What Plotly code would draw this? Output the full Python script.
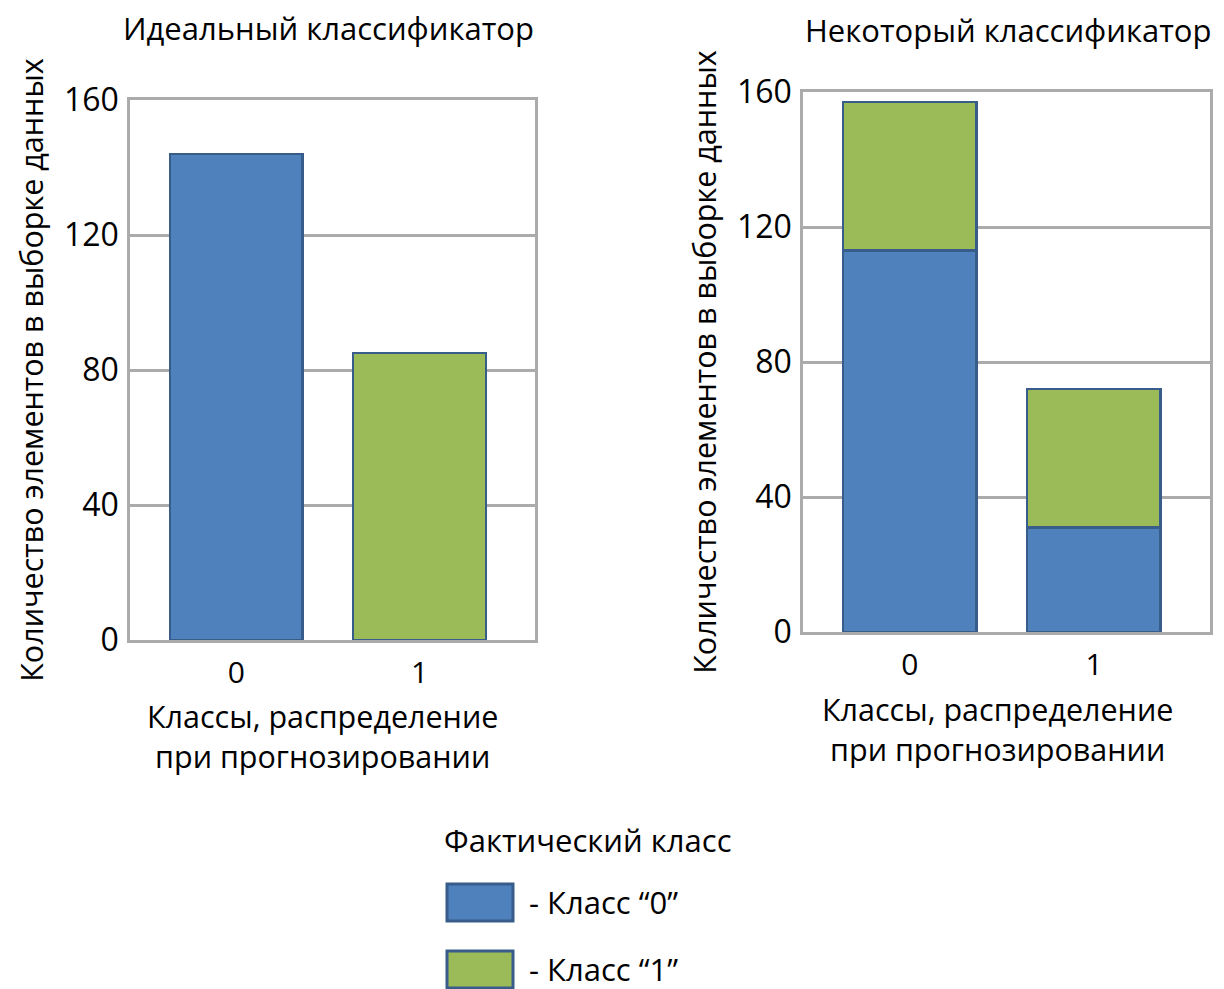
import plotly.graph_objects as go

# Predicted class labels (x categories)
classes = ["0", "1"]

# Ideal classifier: every item lands in its actual class
ideal_actual0 = [144, 0]
ideal_actual1 = [0, 85]

# Some classifier: predicted classes mix actual classes
some_actual0 = [113, 31]
some_actual1 = [44, 41]

y_ticks = [0, 40, 80, 120, 160]

titles = ["Идеальный классификатор", "Некоторый классификатор"]
y_title = "Количество элементов в выборке данных"
x_title = "Классы, распределение<br>при прогнозировании"
legend_title = "Фактический класс"
legend_labels = ["- Класс \u201c0\u201d", "- Класс \u201c1\u201d"]

BLUE = "#4f81bd"
GREEN = "#9bbb59"
EDGE = "#385d8a"
GRID = "#ababab"
FONT = "Open Sans"

W, H = 1224, 989


def px(x):
    return x / W


def py(y):
    return 1 - y / H


fig = go.Figure()

bar_line = dict(color=EDGE, width=2.5)
BAR_W = 0.725
# Left panel
fig.add_trace(go.Bar(x=classes, y=ideal_actual0, width=BAR_W, marker=dict(color=BLUE, line=bar_line),
                     xaxis="x", yaxis="y", showlegend=False, name="Класс 0"))
fig.add_trace(go.Bar(x=classes, y=ideal_actual1, width=BAR_W, marker=dict(color=GREEN, line=bar_line),
                     xaxis="x", yaxis="y", showlegend=False, name="Класс 1"))
# Right panel
fig.add_trace(go.Bar(x=classes, y=some_actual0, width=BAR_W, marker=dict(color=BLUE, line=bar_line),
                     xaxis="x2", yaxis="y2", showlegend=False, name="Класс 0"))
fig.add_trace(go.Bar(x=classes, y=some_actual1, width=BAR_W, marker=dict(color=GREEN, line=bar_line),
                     xaxis="x2", yaxis="y2", showlegend=False, name="Класс 1"))

axis_font = dict(family=FONT, size=32, color="#000000")
xtick_font = dict(family=FONT, size=30, color="#000000")
text_font = dict(family=FONT, size=31, color="#000000")

xcommon = dict(showline=True, mirror=True, linecolor=GRID, linewidth=2.5, showgrid=False,
               range=[-0.58, 1.63], tickfont=xtick_font, ticks="", ticklabelstandoff=4,
               fixedrange=True, automargin=False)
ycommon = dict(showline=True, mirror=True, linecolor=GRID, linewidth=2.5, showgrid=True,
               gridcolor=GRID, gridwidth=2.5, zeroline=False, range=[0, 160], tickvals=y_ticks,
               tickfont=axis_font, ticks="", ticklabelstandoff=2, fixedrange=True, automargin=False,
               title=dict(text=y_title, font=dict(family=FONT, size=30.5, color="#000000"), standoff=12))

fig.update_layout(
    width=W, height=H,
    margin=dict(l=0, r=0, t=0, b=0),
    paper_bgcolor="white", plot_bgcolor="white",
    barmode="stack",
    font=dict(family=FONT, color="#000000"),
    xaxis=dict(domain=[px(130), px(535)], anchor="y", **xcommon),
    yaxis=dict(domain=[py(640), py(100)], anchor="x", **ycommon),
    xaxis2=dict(domain=[px(803), px(1210)], anchor="y2", **xcommon),
    yaxis2=dict(domain=[py(632), py(92)], anchor="x2", **ycommon),
)

# Panel titles
fig.add_annotation(x=px(328), y=py(28), xref="paper", yref="paper", text=titles[0], showarrow=False,
                   font=text_font, xanchor="center", yanchor="middle")
fig.add_annotation(x=px(1008), y=py(30), xref="paper", yref="paper", text=titles[1], showarrow=False,
                   font=text_font, xanchor="center", yanchor="middle")

# Category-axis titles under each panel
fig.add_annotation(x=px(322), y=py(736), xref="paper", yref="paper", text=x_title, showarrow=False,
                   font=dict(family=FONT, size=30.5, color="#000000"), xanchor="center", yanchor="middle")
fig.add_annotation(x=px(997), y=py(729), xref="paper", yref="paper", text=x_title, showarrow=False,
                   font=dict(family=FONT, size=30.5, color="#000000"), xanchor="center", yanchor="middle")

# Legend block drawn below the panels
fig.add_annotation(x=px(442), y=py(840), xref="paper", yref="paper", text=legend_title, showarrow=False,
                   font=text_font, xanchor="left", yanchor="middle")
for i, (label, color) in enumerate(zip(legend_labels, [BLUE, GREEN])):
    top = 884 + i * 67
    fig.add_shape(type="rect", xref="paper", yref="paper", x0=px(447), x1=px(513), y0=py(top + 37), y1=py(top),
                  fillcolor=color, line=dict(color=EDGE, width=3))
    fig.add_annotation(x=px(527), y=py(top + 18), xref="paper", yref="paper", text=label, showarrow=False,
                       font=text_font, xanchor="left", yanchor="middle")

fig.write_html("out.html")
